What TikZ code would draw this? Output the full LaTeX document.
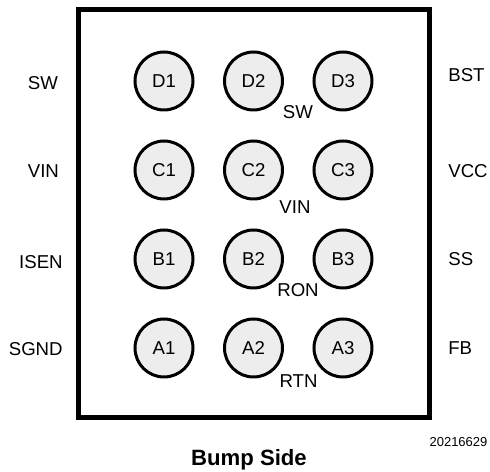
\documentclass[tikz,border=0pt]{standalone}
\usepackage{fontspec}
\setmainfont{Liberation Sans}
\tikzset{
  bump/.style={circle,draw,line width=0.06cm,fill=black!7,minimum size=1.16cm,inner sep=0pt},
  pinlabel/.style={font=\fontsize{10.6}{12}\selectfont,inner sep=0pt}
}
\begin{document}
\begin{tikzpicture}
      \useasboundingbox (0,0) rectangle (9.8,9.44);
      \node[draw,line width=0.1cm,minimum width=7.02cm,minimum height=8.16cm,inner sep=0pt] (body) at (5.08,5.165) {};
      % bumps
      \foreach \row/\ypos in {D/7.82,C/6.04,B/4.26,A/2.48}
        \foreach \col/\xpos in {1/3.28,2/5.07,3/6.86}
          \node[bump,pinlabel] (\row\col) at (\xpos,\ypos) {\row\col};
      % left column
      \node[pinlabel,anchor=west] (swleft) at (0.55,7.78) {SW};
      \node[pinlabel,anchor=west] (vinleft) at (0.55,6.02) {VIN};
      \node[pinlabel,anchor=east] (isen) at (1.26,4.2) {ISEN};
      \node[pinlabel,anchor=east] (sgnd) at (1.26,2.46) {SGND};
      % right column
      \node[pinlabel,anchor=west] (bst) at (8.96,7.94) {BST};
      \node[pinlabel,anchor=west] (vcc) at (8.96,6.02) {VCC};
      \node[pinlabel,anchor=west] (ss) at (8.96,4.26) {SS};
      \node[pinlabel,anchor=west] (fb) at (8.96,2.48) {FB};
      % inside
      \node[pinlabel] (swin) at (5.96,7.2) {SW};
      \node[pinlabel] (vinin) at (5.9,5.3) {VIN};
      \node[pinlabel] (ron) at (5.96,3.64) {RON};
      \node[pinlabel] (rtn) at (5.97,1.82) {RTN};
      \node[font=\fontsize{7.4}{8}\selectfont,inner sep=0pt] (partno) at (9.17,0.59) {20216629};
      \node[font=\bfseries\fontsize{12.6}{14}\selectfont,inner sep=0pt] (side) at (4.98,0.25) {Bump Side};
    \end{tikzpicture}
\end{document}
